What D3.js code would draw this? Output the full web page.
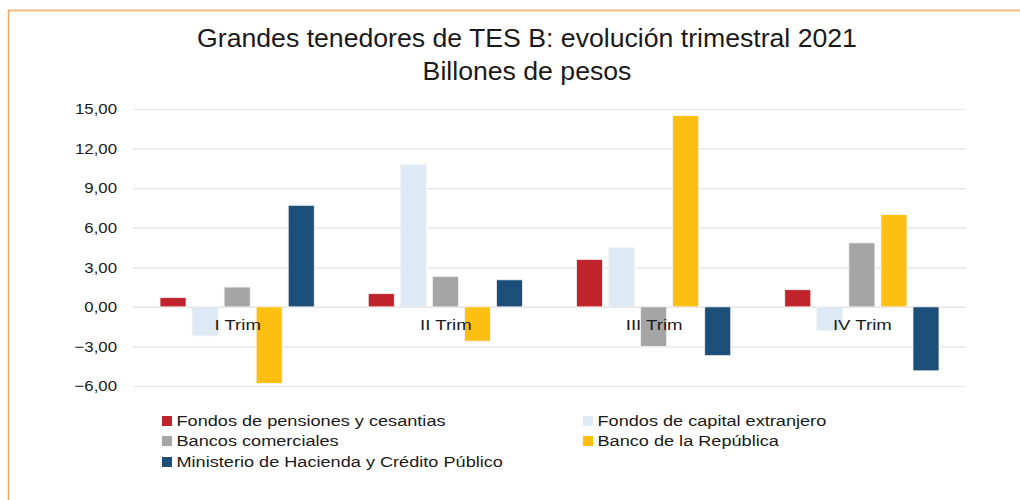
<!DOCTYPE html>
<html>
<head>
<meta charset="utf-8">
<script src="https://cdn.jsdelivr.net/npm/d3@7"></script>
<style>
  body { margin: 0; background: #fff; font-family: "Liberation Sans", Arial, sans-serif; }
  .grid line { stroke: #e4e4e4; }
  .grid .domain { display: none; }
</style>
</head>
<body>
<div id="chart"></div>
<script>
// data
var quarters = ["I Trim", "II Trim", "III Trim", "IV Trim"];
var seriesNames = [
  "Fondos de pensiones y cesantias",
  "Fondos de capital extranjero",
  "Bancos comerciales",
  "Banco de la República",
  "Ministerio de Hacienda y Crédito Público"
];
var pensiones  = [0.7, 1.0, 3.6, 1.3];
var extranjero = [-2.2, 10.8, 4.5, -1.8];
var bancos     = [1.5, 2.3, -3.0, 4.85];
var banrep     = [-5.8, -2.6, 14.5, 7.0];
var minhacienda = [7.7, 2.05, -3.7, -4.85];
var yTicks = [-6, -3, 0, 3, 6, 9, 12, 15];

var seriesValues = [pensiones, extranjero, bancos, banrep, minhacienda];
var colors = ["#c0232b", "#dde9f5", "#a5a5a5", "#fdc010", "#1b4f7a"];

var width = 1020, height = 500;
var margin = {top: 109, right: 54, bottom: 114, left: 133};
var chartWidth = width - margin.left - margin.right;
var chartHeight = height - margin.top - margin.bottom;

var svg = d3.select("#chart").append("svg")
  .attr("width", width)
  .attr("height", height);

// orange frame
svg.append("line").attr("x1", 8).attr("x2", width).attr("y1", 10.5).attr("y2", 10.5)
  .attr("stroke", "#f4bb86").attr("stroke-width", 2);
svg.append("line").attr("x1", 8.5).attr("x2", 8.5).attr("y1", 10).attr("y2", height)
  .attr("stroke", "#f0a666").attr("stroke-width", 1.5);

// title (text in the original is slightly stretched horizontally)
var title = svg.append("text")
  .attr("text-anchor", "middle")
  .attr("font-size", 26)
  .attr("fill", "#1a1a1a")
  .attr("transform", "translate(527,0) scale(1.025,1)");
title.append("tspan").attr("x", 0).attr("y", 47).text("Grandes tenedores de TES B: evolución trimestral 2021");
title.append("tspan").attr("x", 0).attr("y", 80).text("Billones de pesos");

var g = svg.append("g")
  .attr("transform", `translate(${margin.left}, ${margin.top})`);

var xScale = d3.scaleBand()
  .domain(quarters)
  .range([0, chartWidth]);

var xInner = d3.scaleBand()
  .domain(d3.range(seriesNames.length))
  .range([27, xScale.bandwidth() - 27])
  .paddingInner(0.1875);

var yScale = d3.scaleLinear()
  .domain([-6, 15])
  .range([chartHeight, 0]);

var yAxis = d3.axisLeft(yScale)
  .tickValues(yTicks)
  .tickSize(-chartWidth)
  .tickPadding(14.3)
  .tickFormat(d => d3.format(".2f")(d).replace(".", ","));

g.append("g")
  .attr("class", "grid")
  .call(yAxis)
  .call(ax => ax.selectAll("text")
    .attr("font-size", 15)
    .attr("font-family", "Liberation Sans, Arial, sans-serif")
    .attr("fill", "#1a1a1a")
    .attr("transform", "scale(1.12,1)"))
  .call(ax => ax.selectAll(".tick line")
    .attr("stroke", d => d === 0 ? "#d4d4d4" : "#e6e6e6")
    .attr("stroke-width", d => d === 0 ? 1.5 : 1.2));

// bars
var groups = g.selectAll(".quarter")
  .data(quarters)
  .enter().append("g")
  .attr("class", "quarter")
  .attr("transform", d => `translate(${xScale(d)},0)`);

groups.selectAll("rect")
  .data((q, qi) => seriesValues.map((vals, si) => ({s: si, v: vals[qi]})))
  .enter().append("rect")
  .attr("x", d => xInner(d.s))
  .attr("y", d => yScale(Math.max(0, d.v)))
  .attr("width", xInner.bandwidth())
  .attr("height", d => Math.abs(yScale(d.v) - yScale(0)))
  .attr("fill", d => colors[d.s])
  .attr("stroke", "#f4f4f4")
  .attr("stroke-width", 0.8);

// category labels sit just under the zero line, above the bars
g.selectAll(".qlabel")
  .data(quarters)
  .enter().append("text")
  .attr("class", "qlabel")
  .attr("transform", d => `translate(${xScale(d) + xScale.bandwidth() / 2 + 0.5}, ${yScale(0) + 23}) scale(1.2,1)`)
  .attr("text-anchor", "middle")
  .attr("font-size", 15.5)
  .attr("fill", "#1a1a1a")
  .text(d => d);

// legend
var legendPos = [[162, 421], [583, 421], [162, 441], [583, 441], [162, 462]];
var legend = svg.append("g")
  .selectAll("g")
  .data(seriesNames)
  .join("g")
  .attr("transform", (d, i) => `translate(${legendPos[i][0]}, ${legendPos[i][1]})`);

legend.append("rect")
  .attr("x", 0)
  .attr("y", -5)
  .attr("width", 10)
  .attr("height", 10)
  .attr("fill", (d, i) => colors[i]);

legend.append("text")
  .attr("transform", "translate(14.5,0) scale(1.17,1)")
  .attr("dy", "0.35em")
  .attr("font-size", 15.5)
  .attr("fill", "#1a1a1a")
  .text(d => d);
</script>
</body>
</html>
